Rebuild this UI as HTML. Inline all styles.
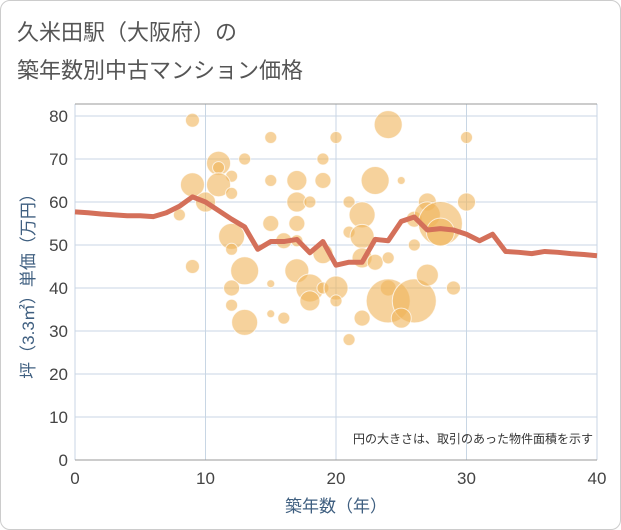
<!DOCTYPE html>
<html><head><meta charset="utf-8">
<style>
body{margin:0;background:#fff;}
#wrap{position:relative;width:619px;height:528px;border:1px solid #ccc;border-radius:10px;overflow:hidden;background:#fff;font-family:"Liberation Sans","Noto Sans CJK JP",sans-serif;}
.title{position:absolute;left:16px;font-size:22px;color:#555;}
</style></head><body>
<div id="wrap">
<div class="title" style="top:14px">久米田駅（大阪府）の</div>
<div class="title" style="top:52px">築年数別中古マンション価格</div>
<svg id="chart" width="621" height="530" style="position:absolute;left:-1px;top:-1px"></svg>
</div>
<script>
const years=[0,1,2,3,4,5,6,7,8,9,10,11,12,13,14,15,16,17,18,19,20,21,22,23,24,25,26,27,28,29,30,31,32,33,34,35,36,37,38,39,40];
const avgPrice=[57.7,57.5,57.2,57,56.8,56.8,56.6,57.5,59,61.2,60,58,56,54.2,49,50.8,50.8,51.3,48.2,50.8,45.3,46,46,51.3,51,55.5,56.5,53.5,53.8,53.5,52.5,51,52.5,48.5,48.3,48,48.5,48.3,48,47.8,47.5];
const bubbleAge=[9,11,11,9,12,10,11,12,13,15,15,15,12,13,12,12,12,13,9,17,17,17,18,19,19,16,17,17,18,18,16,15,15,19,19,20,20,20,21,21,22,22,22,22,21,23,24,23,25,24,24,26,25,24,26,26,27,27,28,28,27,29,30,30,8];
const bubblePrice=[79,69,68,64,66,60,64,62,70,75,65,55,52,44,49,40,36,32,45,65,60,55,60,70,65,51,51,44,40,37,33,41,34,48,40,40,37,75,60,53,57,52,47,33,28,65,78,46,65,40,37,37,33,47,56,50,60,57,55,53,43,40,75,60,57];
const bubbleSize=[7,12,6,12,6,10,12,6,6,6,6,8,13,14,6,8,6,13,7,10,10,8,6,6,8,8,6,12,14,10,6,4,4,10,6,12,6,6,6,6,13,12,10,8,6,14,14,8,4,8,22,22,10,6,8,6,9,13,22,14,11,7,6,9,6];
const xTicks=[0,10,20,30,40];
const yTicks=[0,10,20,30,40,50,60,70,80];
const svg=document.getElementById('chart');
const NS='http://www.w3.org/2000/svg';
const L=75,R=597,T=104,B=460;
const xs=v=>L+(R-L)*v/40;
const ys=v=>B-(B-116)*v/80;
function mk(t,a){const e=document.createElementNS(NS,t);for(const k in a)e.setAttribute(k,a[k]);svg.appendChild(e);return e;}
const pb=mk('rect',{x:L,y:T,width:R-L,height:B-T,fill:'#fff'});


yTicks.forEach(v=>{const g=mk('line',{x1:L,x2:R,y1:ys(v),y2:ys(v),stroke:'#c8d6e4','stroke-width':1});


const t=mk('text',{x:L-7,y:ys(v)+6,'text-anchor':'end','font-size':17,fill:'#444'});t.textContent=v;

});
xTicks.forEach(v=>{const g=mk('line',{x1:xs(v),x2:xs(v),y1:T,y2:B,stroke:'#c8d6e4','stroke-width':1});


const t=mk('text',{x:xs(v),y:B+24,'text-anchor':'middle','font-size':17,fill:'#444'});t.textContent=v;

});
const tb=mk('line',{x1:L,x2:R,y1:T,y2:T,stroke:'#999','stroke-width':1});


const ax=mk('line',{x1:L,x2:R,y1:B,y2:B,stroke:'#999','stroke-width':1});


bubbleAge.forEach((a,i)=>{const c=mk('circle',{cx:xs(a),cy:ys(bubblePrice[i]),r:bubbleSize[i],fill:'rgba(240,180,90,0.6)',stroke:'rgba(255,255,255,0.7)','stroke-width':1});

});
const p=mk('polyline',{points:years.map((y,i)=>xs(y)+','+ys(avgPrice[i])).join(' '),fill:'none',stroke:'#d4705a','stroke-width':5,'stroke-linejoin':'round'});


const n=mk('text',{x:593,y:443,'text-anchor':'end','font-size':12,fill:'#333'});n.textContent='円の大きさは、取引のあった物件面積を示す';


const xt=mk('text',{x:336,y:512,'text-anchor':'middle','font-size':17,fill:'#3f5f80'});xt.textContent='築年数（年）';


const yt=mk('text',{x:0,y:0,'text-anchor':'middle','font-size':17,fill:'#3f5f80',transform:'translate(34,282) rotate(-90)'});yt.textContent='坪（3.3㎡）単価（万円）';


</script>
</body></html>
